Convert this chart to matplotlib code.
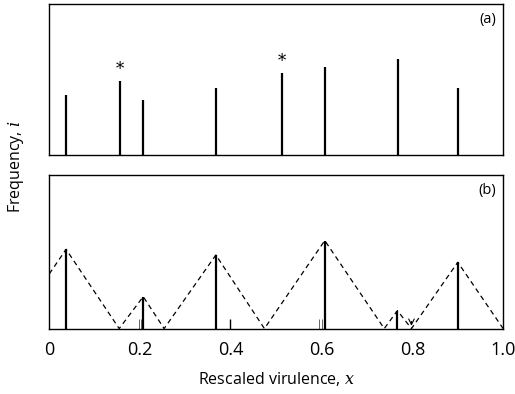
import matplotlib.pyplot as plt
import numpy as np

plt.rcParams['font.family'] = ['Open Sans', 'DejaVu Sans']
plt.rcParams['mathtext.fontset'] = 'dejavuserif'

# panel (a): strain positions and frequencies
xa = [0.037, 0.156, 0.206, 0.367, 0.513, 0.607, 0.768, 0.900]
ya = [0.402, 0.492, 0.364, 0.446, 0.545, 0.585, 0.640, 0.446]
starred = [0.156, 0.513]

# panel (b): surviving strains
xb = [0.037, 0.207, 0.367, 0.607, 0.767, 0.900]
yb = [0.516, 0.208, 0.479, 0.573, 0.117, 0.432]
# small new mutants
xm = [0.398]
ym = [0.063]
xpair = [0.200, 0.598]
ypair = [0.063, 0.063]
xarrow = 0.798

# dashed envelope (triangles)
env_x = [0.0, 0.037, 0.154, 0.207, 0.253, 0.367, 0.474, 0.607, 0.738, 0.767, 0.798, 0.900, 1.0]
env_y = [0.356, 0.516, 0.0, 0.208, 0.0, 0.479, 0.0, 0.573, 0.0, 0.117, 0.0, 0.432, 0.0]

fig = plt.figure(figsize=(5.15, 3.94), dpi=100)
ax1 = fig.add_axes([0.0957, 0.606, 0.8813, 0.383])
ax2 = fig.add_axes([0.0957, 0.166, 0.8813, 0.390])

for ax in (ax1, ax2):
    ax.set_xlim(0, 1)
    ax.set_ylim(0, 1)
    ax.set_yticks([])
    for s in ax.spines.values():
        s.set_linewidth(1.0)

ax1.vlines(xa, 0, ya, color='black', lw=1.6)
for xs in starred:
    ax1.text(xs, ya[xa.index(xs)] + 0.02, '*', ha='center', va='bottom',
             fontsize=12, family='DejaVu Serif')
ax1.set_xticks([])
ax1.text(0.985, 0.95, '(a)', transform=ax1.transAxes, ha='right', va='top', fontsize=10.5)

ax2.plot(env_x, env_y, color='black', lw=0.9, ls=(0, (4, 3)))
ax2.vlines(xb, 0, yb, color='black', lw=1.6)
ax2.vlines(xm, 0, ym, color='black', lw=1.0)
for xp, yp in zip(xpair, ypair):
    ax2.vlines([xp - 0.003, xp + 0.003], 0, yp, color='0.3', lw=0.6)
ax2.annotate('', xy=(xarrow, 0.0), xytext=(xarrow, 0.065),
             arrowprops=dict(arrowstyle='->', lw=0.8, color='black'))
ax2.text(0.985, 0.95, '(b)', transform=ax2.transAxes, ha='right', va='top', fontsize=10.5)

ax2.set_xticks([0, 0.2, 0.4, 0.6, 0.8, 1.0])
ax2.set_xticklabels(['0', '0.2', '0.4', '0.6', '0.8', '1.0'])
ax2.tick_params(axis='x', length=0, pad=9, labelsize=13)
ax2.set_xlabel('Rescaled virulence, $x$', fontsize=11.5, labelpad=8)

fig.text(0.032, 0.577, 'Frequency, $i$', rotation=90, ha='center', va='center', fontsize=11.5)

fig.savefig('out.png', dpi=100)
